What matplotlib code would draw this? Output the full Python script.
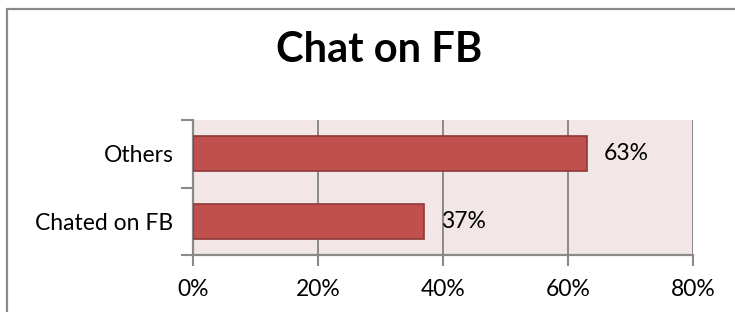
import matplotlib.pyplot as plt
from matplotlib.lines import Line2D

categories = ['Chated on FB', 'Others']
values = [37, 63]
xticks = [0, 20, 40, 60, 80]

plt.rcParams['font.family'] = ['Lato', 'DejaVu Sans']

fig = plt.figure(figsize=(7.35, 3.12), dpi=100)
ax = fig.add_axes([193/735, 1-255/312, (693-193)/735, (255-120)/312])

# outer chart frame (cropped at right and bottom): left and top edges only
fx, fy = 7.5/735, 1-8.5/312
fig.add_artist(Line2D([fx, fx, 1.0], [0.0, fy, fy], transform=fig.transFigure,
                      color='#8a8a8a', linewidth=1.6, solid_joinstyle='miter'))

ax.set_facecolor('#f2e6e6')
bars = ax.barh(range(len(categories)), values, height=0.52, color='#c0504d',
               edgecolor='#8e3a38', linewidth=1.2, zorder=3)

for i, v in enumerate(values):
    ax.annotate(f'{v}%', (v, i), xytext=(12, 0), textcoords='offset points',
                va='center', ha='left', fontsize=16.5)

ax.set_xlim(0, 80)
ax.set_ylim(-0.5, 1.5)
ax.set_xticks(xticks)
ax.set_xticklabels([f'{t}%' for t in xticks], fontsize=16.5)
ax.set_yticks(range(len(categories)))
ax.set_yticklabels(categories, fontsize=16.5)
ax.tick_params(axis='y', length=0, pad=14)
ax.set_yticks([-0.5, 0.5, 1.5], minor=True)
ax.tick_params(axis='y', which='minor', length=9, width=1.5, color='#8a8a8a', direction='out')
ax.tick_params(axis='x', length=8, width=1.5, color='#8a8a8a', direction='out', pad=9)

ax.grid(axis='x', color='#8a8a8a', linewidth=1.4, zorder=1)
ax.set_axisbelow(True)
for s in ['top', 'right']:
    ax.spines[s].set_visible(False)
for s in ['left', 'bottom']:
    ax.spines[s].set_color('#8a8a8a')
    ax.spines[s].set_linewidth(1.6)

fig.text(379/735, 1-50/312, 'Chat on FB', ha='center', va='center',
         fontsize=30, fontweight='bold')

fig.savefig('out.png', dpi=100)
